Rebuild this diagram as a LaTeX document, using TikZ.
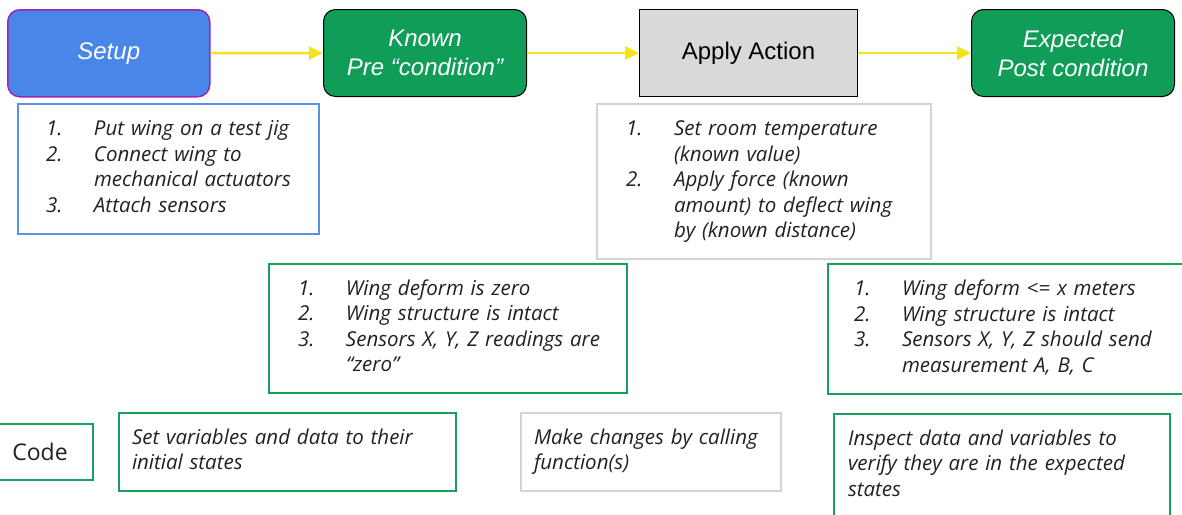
\documentclass[tikz,border=0pt]{standalone}
\usepackage{fontspec}
\setmainfont{Open Sans}
\newfontfamily\arialfont{Liberation Sans}
\usetikzlibrary{arrows.meta}

\definecolor{setupblue}{HTML}{4A86E8}
\definecolor{setupedge}{HTML}{9C27B0}
\definecolor{stagegreen}{HTML}{0F9D58}
\definecolor{actiongray}{HTML}{D9D9D9}
\definecolor{flowyellow}{HTML}{F4E21B}
\definecolor{noteblue}{HTML}{5B8FEA}
\definecolor{notegray}{HTML}{D4D4D4}
\definecolor{notegreen}{HTML}{16A05D}

% numbered steps, shifted in from the left edge of the box
\newcommand\steplist[2]{\hspace*{#1}\begin{tabular}{@{}p{48pt}@{}l@{}}#2\end{tabular}}
\newcommand\plainlist[2]{\hspace*{#1}\begin{tabular}{@{}l@{}}#2\end{tabular}}

\tikzset{
  stage/.style={draw=black, line width=1pt, rounded corners=12pt, anchor=north west,
    minimum width=203pt, minimum height=87pt, align=center, text=white,
    font=\arialfont\itshape\fontsize{24}{29}\selectfont},
  flow/.style={draw=flowyellow, line width=2.5pt, -{Triangle[length=14pt,width=13pt]}},
  notes/.style={draw, line width=2pt, anchor=north west, inner xsep=0pt, align=left,
    text=black!87, font=\itshape\fontsize{20.5}{25.5}\selectfont},
}

\begin{document}
\begin{tikzpicture}[x=1pt, y=-1pt]
  \useasboundingbox (0,0) rectangle (1182,514);
  \clip (0,0) rectangle (1182,514);

  % the four stages
  \node[stage, fill=setupblue, draw=setupedge, line width=1.5pt, minimum width=202pt] (setup) at (7,9) {Setup};
  \node[stage, fill=stagegreen] (known) at (323,9) {Known\\Pre “condition”};
  \node[stage, fill=actiongray, rounded corners=0pt, minimum width=218pt, text=black,
    font=\arialfont\fontsize{24}{29}\selectfont] (apply) at (639,9) {Apply Action};
  \node[stage, fill=stagegreen] (expected) at (971,9) {Expected\\Post condition};

  \draw[flow] (setup) -- (known);
  \draw[flow] (known) -- (apply);
  \draw[flow] (apply) -- (expected);

  % what happens at each stage
  \node[notes, draw=noteblue, minimum width=301pt, text width=301pt, minimum height=130pt] (setupnotes) at (17,103)
    {\steplist{28pt}{1. & Put wing on a test jig\\
                     2. & Connect wing to\\
                        & mechanical actuators\\
                     3. & Attach sensors}};
  \node[notes, draw=notegray, minimum width=334pt, text width=334pt, minimum height=155pt] (applynotes) at (596,103)
    {\steplist{29pt}{1. & Set room temperature\\
                        & (known value)\\
                     2. & Apply force (known\\
                        & amount) to deflect wing\\
                        & by (known distance)}};
  \node[notes, draw=notegreen, minimum width=358pt, text width=358pt, minimum height=129pt] (prenotes) at (268,263)
    {\steplist{29pt}{1. & Wing deform is zero\\
                     2. & Wing structure is intact\\
                     3. & Sensors X, Y, Z readings are\\
                        & “zero”}};
  \node[notes, draw=notegreen, minimum width=370pt, text width=370pt, minimum height=130pt] (postnotes) at (827,263)
    {\steplist{26pt}{1. & Wing deform <= x meters\\
                     2. & Wing structure is intact\\
                     3. & Sensors X, Y, Z should send\\
                        & measurement A, B, C}};

  % the same stages in code
  \node[notes, draw=notegreen, minimum width=106pt, text width=106pt, minimum height=56pt, align=center,
    font=\fontsize{23}{28}\selectfont] (code) at (-14,423) {Code};
  \node[notes, draw=notegreen, minimum width=337pt, text width=337pt, minimum height=78pt] (initcode) at (118,412)
    {\plainlist{13pt}{Set variables and data to their\\initial states}};
  \node[notes, draw=notegray, minimum width=260pt, text width=260pt, minimum height=78pt] (callcode) at (520,412)
    {\plainlist{13pt}{Make changes by calling\\function(s)}};
  \node[notes, draw=notegreen, minimum width=336pt, text width=336pt, minimum height=103pt] (checkcode) at (833,413)
    {\plainlist{14pt}{Inspect data and variables to\\verify they are in the expected\\states}};
\end{tikzpicture}
\end{document}
